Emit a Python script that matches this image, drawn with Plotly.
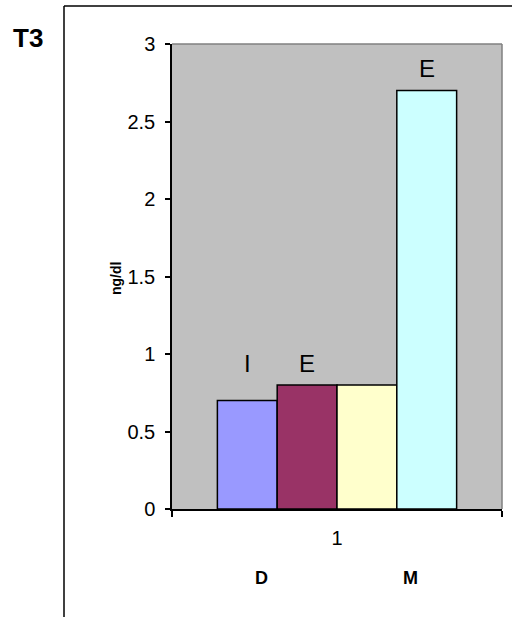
import plotly.graph_objects as go

# ---- data ----
categories = ["1"]
series_names = ["I", "E", "S", "E2"]
series_values = [[0.7], [0.8], [0.8], [2.7]]
series_colors = ["#9999FF", "#993366", "#FFFFCC", "#CCFFFF"]
bar_labels = ["I", "E", "", "E"]
label_heights = [0.94, 0.94, None, 2.845]
group_labels = ["D", "M"]
y_ticks = [0, 0.5, 1, 1.5, 2, 2.5, 3]

W, H = 512, 617
# plot area in page pixels
PL, PR, PT, PB = 172, 502, 44, 509
L, T = PL, PT
R, B = W - PR, H - PB
pw, ph = PR - PL, PB - PT

def px(x):
    return (x - PL) / pw

def py(y):
    return (PB - y) / ph

FONT = "Liberation Sans, Arial, sans-serif"

fig = go.Figure()
for name, vals, col in zip(series_names, series_values, series_colors):
    fig.add_trace(go.Bar(
        x=categories, y=vals, name=name,
        marker=dict(color=col, line=dict(color="black", width=1.5)),
        showlegend=False,
    ))

BARGAP = 0.275
bar_px = pw * (1 - BARGAP) / len(series_names)
annotations = []
n = len(series_names)
for i, (lab, hy) in enumerate(zip(bar_labels, label_heights)):
    if not lab:
        continue
    annotations.append(dict(
        x=0, y=hy, xref="x", yref="y", text=lab, showarrow=False,
        xshift=(i - (n - 1) / 2) * bar_px,
        font=dict(family=FONT, size=24, color="black"),
        xanchor="center", yanchor="middle",
    ))

for lab, xpix in zip(group_labels, [261, 410]):
    annotations.append(dict(
        x=px(xpix), y=py(578), xref="paper", yref="paper", text="<b>%s</b>" % lab,
        showarrow=False, font=dict(family=FONT, size=18, color="black"),
        xanchor="center", yanchor="middle",
    ))

annotations.append(dict(
    x=px(116), y=py(279), xref="paper", yref="paper", text="<b>ng/dl</b>",
    showarrow=False, textangle=-90, font=dict(family=FONT, size=14, color="black"),
    xanchor="center", yanchor="middle",
))

annotations.append(dict(
    x=px(28), y=py(38), xref="paper", yref="paper", text="<b>T3</b>",
    showarrow=False, font=dict(family=FONT, size=26, color="black"),
    xanchor="center", yanchor="middle",
))

shapes = [
    dict(type="line", xref="paper", yref="paper", x0=px(64), x1=px(64), y0=py(H + 5), y1=py(6),
         line=dict(color="black", width=1.5)),
    dict(type="line", xref="paper", yref="paper", x0=px(64), x1=px(W + 5), y0=py(6), y1=py(6),
         line=dict(color="black", width=1.5)),
    dict(type="line", xref="paper", yref="paper", x0=0, x1=1, y0=1, y1=1,
         line=dict(color="#808080", width=1.5)),
    dict(type="line", xref="paper", yref="paper", x0=1, x1=1, y0=0, y1=1,
         line=dict(color="#808080", width=1.5)),
]

fig.update_layout(
    width=W, height=H,
    margin=dict(l=L, r=R, t=T, b=B, pad=0),
    paper_bgcolor="white", plot_bgcolor="#C0C0C0",
    barmode="group", bargap=BARGAP, bargroupgap=0,
    font=dict(family=FONT, size=20, color="black"),
    annotations=annotations, shapes=shapes,
    xaxis=dict(
        type="category", range=[-0.5, 0.5], showgrid=False, zeroline=False,
        showline=True, linecolor="black", linewidth=1.5,
        ticks="outside", tickson="boundaries", ticklen=6, tickwidth=1.5, tickcolor="black",
        tickfont=dict(family=FONT, size=20), ticklabelstandoff=10,
    ),
    yaxis=dict(
        range=[0, 3], tickvals=y_ticks, ticktext=[("%g" % v) for v in y_ticks],
        showgrid=False, zeroline=False,
        showline=True, linecolor="black", linewidth=1.5,
        ticks="outside", ticklen=5, tickwidth=1.5, tickcolor="black",
        tickfont=dict(family=FONT, size=20), ticklabelstandoff=6,
    ),
)

fig.write_html("out.html", config={"displayModeBar": False},
               post_script="document.body.style.margin='0';")
